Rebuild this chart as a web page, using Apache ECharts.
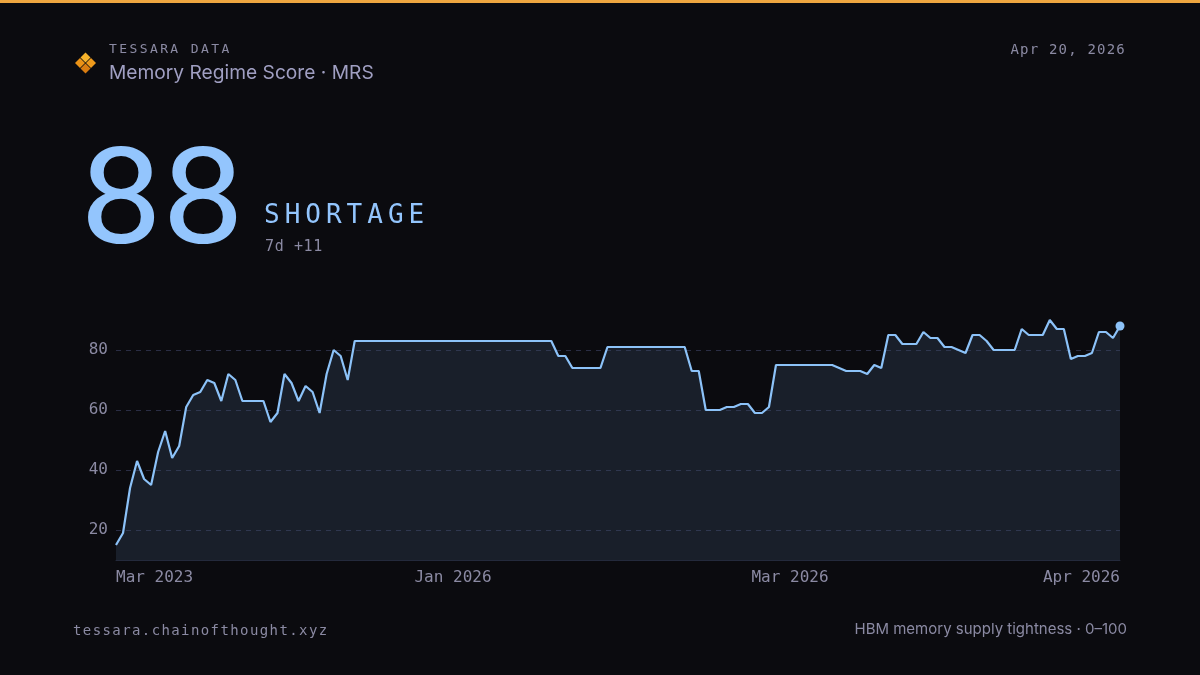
<!DOCTYPE html>
<html>
<head>
<meta charset="utf-8">
<script src="https://cdn.jsdelivr.net/npm/echarts@6/dist/echarts.min.js"></script>
<style>
  html, body { margin: 0; padding: 0; background: #0b0b0f; }
  #wrap { position: relative; width: 1200px; height: 675px; overflow: hidden; }
  #chart { position: absolute; left: 0; top: 0; width: 1200px; height: 675px; }
  .t { position: absolute; white-space: nowrap; line-height: 1; }
  .mono { font-family: "DejaVu Sans Mono", "Liberation Mono", monospace; }
  .sans { font-family: Inter, "Noto Sans", sans-serif; }
</style>
</head>
<body>
<div id="wrap">
  <div id="chart"></div>
  <div class="t mono" style="left:109px;top:42px;font-size:13px;letter-spacing:2.4px;color:#8b8aa3;">TESSARA DATA</div>
  <div class="t sans" style="left:109px;top:63px;font-size:19.2px;color:#a09fc2;">Memory Regime Score · MRS</div>
  <div class="t mono" style="right:74px;top:42px;font-size:14px;letter-spacing:1.2px;color:#8b8aa3;">Apr 20, 2026</div>
  <div class="t" style="left:80px;top:131px;font-family:Roboto, sans-serif;font-size:134px;color:#93c5fd;transform:scaleX(1.09);transform-origin:0 0;">88</div>
  <div class="t mono" style="left:264px;top:201px;font-size:26px;letter-spacing:5px;color:#93c5fd;">SHORTAGE</div>
  <div class="t mono" style="left:265px;top:239px;font-size:15px;letter-spacing:0.6px;color:#8b8aa3;">7d +11</div>
  <div class="t mono" style="left:73px;top:623px;font-size:14px;letter-spacing:1.4px;color:#8b8aa3;">tessara.chainofthought.xyz</div>
  <div class="t sans" style="right:73px;top:621px;font-size:15px;color:#8b8aa3;">HBM memory supply tightness · 0–100</div>
</div>
<script>
// 刻度标签（x 轴只显示这几个位置）
const tickLabels = ['Mar 2023', 'Jan 2026', 'Mar 2026', 'Apr 2026']
const tickIndex = [0, 48, 96, 143]

// MRS 分数
const scores = [
	15, 19, 34, 43, 37, 35, 46, 53, 44, 48,
	61, 65, 66, 70, 69, 63, 72, 70, 63, 63,
	63, 63, 56, 59, 72, 69, 63, 68, 66, 59,
	72, 80, 78, 70, 83, 83, 83, 83, 83, 83,
	83, 83, 83, 83, 83, 83, 83, 83, 83, 83,
	83, 83, 83, 83, 83, 83, 83, 83, 83, 83,
	83, 83, 83, 78, 78, 74, 74, 74, 74, 74,
	81, 81, 81, 81, 81, 81, 81, 81, 81, 81,
	81, 81, 73, 73, 60, 60, 60, 61, 61, 62,
	62, 59, 59, 61, 75, 75, 75, 75, 75, 75,
	75, 75, 75, 74, 73, 73, 73, 72, 75, 74,
	85, 85, 82, 82, 82, 86, 84, 84, 81, 81,
	80, 79, 85, 85, 83, 80, 80, 80, 80, 87,
	85, 85, 85, 90, 87, 87, 77, 78, 78, 79,
	86, 86, 84, 88,
]

const yTicks = [20, 40, 60, 80]

const categories = scores.map((_, i) => {
	let k = tickIndex.indexOf(i)
	return k >= 0 ? tickLabels[k] : 'd' + i
})

const lineColor = '#8cc2f8'
const labelColor = '#8b8aa3'
const monoFont = '"DejaVu Sans Mono", "Liberation Mono", monospace'

// logo：四个小菱形
function diamond(cx, cy, r, color) {
	return {
		type: 'polygon',
		shape: { points: [[cx, cy - r], [cx + r, cy], [cx, cy + r], [cx - r, cy]] },
		style: { fill: color },
	}
}

let option = {
	backgroundColor: '#0b0b0f',
	animation: false,
	graphic: [
		{ type: 'rect', shape: { x: 0, y: 0, width: 1200, height: 3 }, style: { fill: '#eea640' } },
		diamond(85.5, 57.5, 5, '#f7b32b'),
		diamond(80, 63, 5, '#ea9216'),
		diamond(91, 63, 5, '#ee9a1c'),
		diamond(85.5, 68.5, 5, '#d97c10'),
	],
	grid: {
		left: 116,
		right: 80,
		top: 320,
		bottom: 115,
	},
	xAxis: {
		type: 'category',
		data: categories,
		boundaryGap: false,
		axisLine: { show: true, lineStyle: { color: '#242a3c', width: 1 } },
		axisTick: { show: false },
		splitLine: { show: false },
		axisLabel: {
			interval: (index) => tickIndex.indexOf(index) >= 0,
			formatter: (v) => (tickLabels.indexOf(v) >= 0 ? v : ''),
			color: labelColor,
			fontFamily: monoFont,
			fontSize: 16,
			margin: 10,
			alignMinLabel: 'left',
			alignMaxLabel: 'right',
		},
	},
	yAxis: {
		type: 'value',
		min: 10,
		max: 90,
		interval: 10,
		axisLine: { show: false },
		axisTick: { show: false },
		axisLabel: {
			formatter: (v) => (yTicks.indexOf(v) >= 0 ? String(v) : ''),
			color: labelColor,
			fontFamily: monoFont,
			fontSize: 16,
			margin: 8,
		},
		splitLine: {
			show: true,
			showMinLine: true,
			showMaxLine: true,
			lineStyle: {
				color: ['rgba(0,0,0,0)', '#2a2d44'],
				type: [5, 5],
				width: 1,
			},
		},
	},
	series: [
		{
			type: 'line',
			data: scores,
			symbol: 'circle',
			showSymbol: true,
			showAllSymbol: true,
			symbolSize: (val, params) => (params.dataIndex === scores.length - 1 ? 9 : 0),
			itemStyle: { color: lineColor },
			lineStyle: { color: lineColor, width: 2.2 },
			// 半透明填充，让虚线网格透出来
			areaStyle: { color: 'rgba(61,78,105,0.3)', opacity: 1 },
			z: 3,
		},
	],
}

var chart = echarts.init(document.getElementById('chart'))
chart.setOption(option)
</script>
</body>
</html>
